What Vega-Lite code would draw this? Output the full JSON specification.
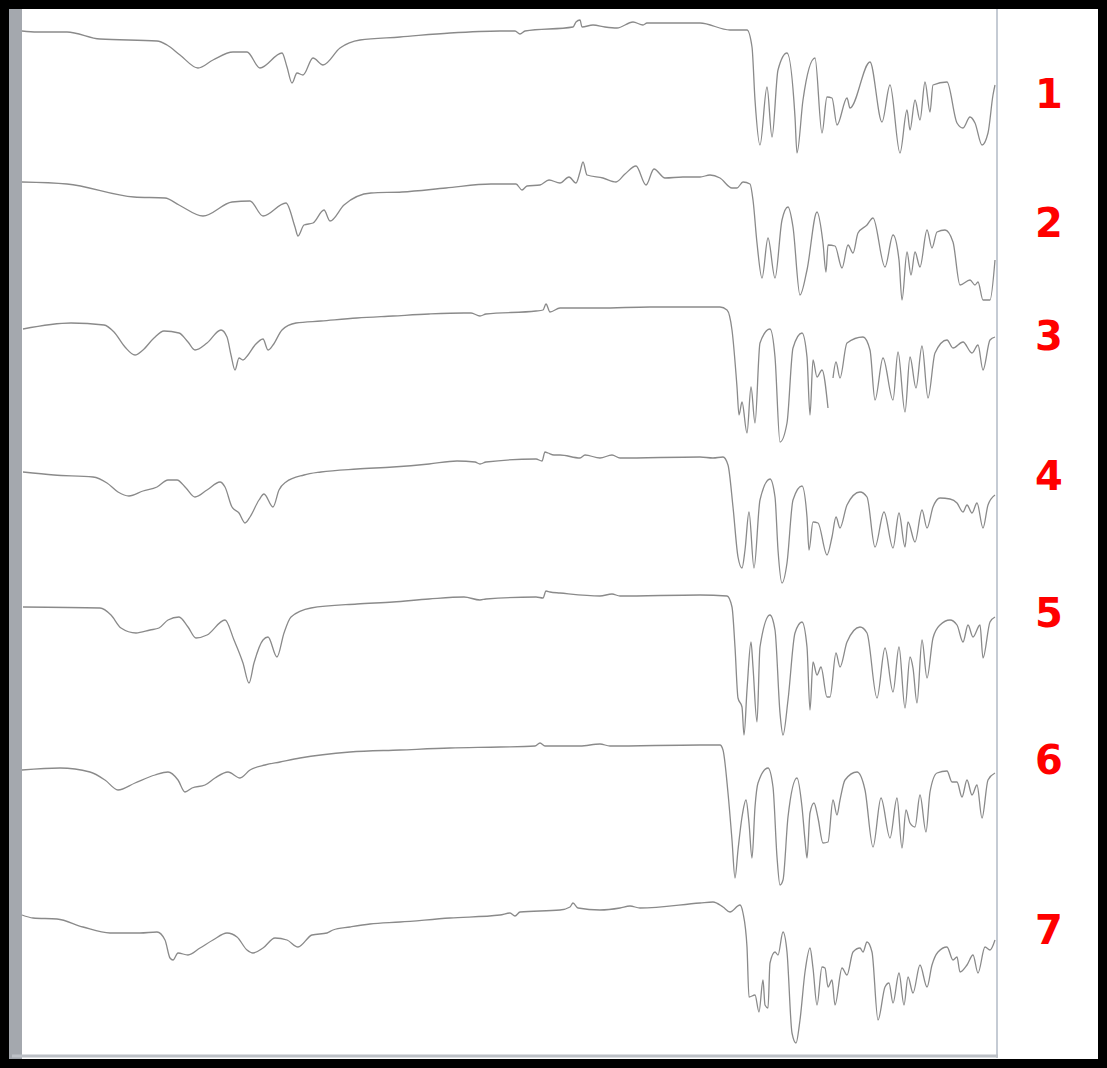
{
"$schema": "https://vega.github.io/schema/vega-lite/v6.json",
"width": 1107, "height": 1068, "padding": 0,
"autosize": {"type": "fit", "contains": "padding"},
"background": "white",
"config": {"view": {"stroke": "black", "strokeWidth": 18}},
"datasets": {
"labels": [{"n":"1","y":96},{"n":"2","y":225},{"n":"3","y":338},{"n":"4","y":478},{"n":"5","y":615},{"n":"6","y":762},{"n":"7","y":932}],
"spectra": [
{"id":"1","x":22,"y":31},{"id":"1","x":37,"y":32},{"id":"1","x":67,"y":32},{"id":"1","x":100,"y":39},{"id":"1","x":157,"y":41},{"id":"1","x":167,"y":45},{"id":"1","x":180,"y":55},{"id":"1","x":198,"y":68},{"id":"1","x":213,"y":60},{"id":"1","x":233,"y":52},{"id":"1","x":247,"y":52},{"id":"1","x":260,"y":68},{"id":"1","x":282,"y":53},{"id":"1","x":287,"y":67},{"id":"1","x":292,"y":83},{"id":"1","x":297,"y":73},{"id":"1","x":303,"y":75},{"id":"1","x":313,"y":58},{"id":"1","x":323,"y":65},{"id":"1","x":340,"y":48},{"id":"1","x":360,"y":40},{"id":"1","x":400,"y":37},{"id":"1","x":450,"y":33},{"id":"1","x":500,"y":31},{"id":"1","x":515,"y":31},{"id":"1","x":520,"y":34},{"id":"1","x":525,"y":31},{"id":"1","x":573,"y":27},{"id":"1","x":576,"y":22},{"id":"1","x":580,"y":20},{"id":"1","x":582,"y":27},{"id":"1","x":593,"y":25},{"id":"1","x":605,"y":27},{"id":"1","x":617,"y":28},{"id":"1","x":633,"y":22},{"id":"1","x":643,"y":25},{"id":"1","x":647,"y":23},{"id":"1","x":700,"y":23},{"id":"1","x":730,"y":30},{"id":"1","x":747,"y":30},{"id":"1","x":752,"y":47},{"id":"1","x":755,"y":100},{"id":"1","x":760,"y":145},{"id":"1","x":767,"y":87},{"id":"1","x":772,"y":137},{"id":"1","x":778,"y":70},{"id":"1","x":787,"y":53},{"id":"1","x":795,"y":117},{"id":"1","x":797,"y":153},{"id":"1","x":803,"y":100},{"id":"1","x":815,"y":58},{"id":"1","x":822,"y":133},{"id":"1","x":827,"y":97},{"id":"1","x":832,"y":98},{"id":"1","x":837,"y":125},{"id":"1","x":847,"y":98},{"id":"1","x":850,"y":108},{"id":"1","x":870,"y":62},{"id":"1","x":882,"y":122},{"id":"1","x":890,"y":85},{"id":"1","x":900,"y":153},{"id":"1","x":907,"y":110},{"id":"1","x":910,"y":130},{"id":"1","x":915,"y":100},{"id":"1","x":920,"y":120},{"id":"1","x":925,"y":82},{"id":"1","x":930,"y":112},{"id":"1","x":933,"y":85},{"id":"1","x":947,"y":82},{"id":"1","x":957,"y":123},{"id":"1","x":963,"y":128},{"id":"1","x":970,"y":117},{"id":"1","x":975,"y":123},{"id":"1","x":982,"y":145},{"id":"1","x":988,"y":133},{"id":"1","x":993,"y":95},{"id":"1","x":995,"y":85},
{"id":"2","x":22,"y":182},{"id":"2","x":67,"y":184},{"id":"2","x":134,"y":197},{"id":"2","x":165,"y":198},{"id":"2","x":179,"y":205},{"id":"2","x":203,"y":216},{"id":"2","x":232,"y":202},{"id":"2","x":250,"y":201},{"id":"2","x":263,"y":216},{"id":"2","x":286,"y":203},{"id":"2","x":295,"y":227},{"id":"2","x":298,"y":236},{"id":"2","x":304,"y":225},{"id":"2","x":313,"y":223},{"id":"2","x":324,"y":210},{"id":"2","x":330,"y":221},{"id":"2","x":344,"y":205},{"id":"2","x":371,"y":193},{"id":"2","x":402,"y":192},{"id":"2","x":446,"y":188},{"id":"2","x":491,"y":184},{"id":"2","x":516,"y":184},{"id":"2","x":522,"y":190},{"id":"2","x":527,"y":186},{"id":"2","x":540,"y":185},{"id":"2","x":549,"y":180},{"id":"2","x":560,"y":183},{"id":"2","x":569,"y":177},{"id":"2","x":576,"y":183},{"id":"2","x":580,"y":172},{"id":"2","x":583,"y":162},{"id":"2","x":587,"y":175},{"id":"2","x":603,"y":178},{"id":"2","x":616,"y":182},{"id":"2","x":625,"y":174},{"id":"2","x":636,"y":166},{"id":"2","x":646,"y":185},{"id":"2","x":654,"y":169},{"id":"2","x":665,"y":178},{"id":"2","x":683,"y":177},{"id":"2","x":700,"y":177},{"id":"2","x":710,"y":175},{"id":"2","x":720,"y":178},{"id":"2","x":732,"y":188},{"id":"2","x":737,"y":188},{"id":"2","x":743,"y":182},{"id":"2","x":750,"y":184},{"id":"2","x":753,"y":200},{"id":"2","x":757,"y":243},{"id":"2","x":762,"y":278},{"id":"2","x":768,"y":238},{"id":"2","x":775,"y":278},{"id":"2","x":782,"y":220},{"id":"2","x":788,"y":207},{"id":"2","x":793,"y":227},{"id":"2","x":800,"y":295},{"id":"2","x":807,"y":270},{"id":"2","x":817,"y":212},{"id":"2","x":823,"y":243},{"id":"2","x":826,"y":272},{"id":"2","x":828,"y":245},{"id":"2","x":835,"y":246},{"id":"2","x":842,"y":268},{"id":"2","x":848,"y":245},{"id":"2","x":853,"y":253},{"id":"2","x":858,"y":233},{"id":"2","x":867,"y":225},{"id":"2","x":873,"y":218},{"id":"2","x":885,"y":267},{"id":"2","x":893,"y":235},{"id":"2","x":899,"y":260},{"id":"2","x":902,"y":300},{"id":"2","x":907,"y":252},{"id":"2","x":911,"y":275},{"id":"2","x":915,"y":252},{"id":"2","x":920,"y":267},{"id":"2","x":927,"y":230},{"id":"2","x":932,"y":248},{"id":"2","x":937,"y":232},{"id":"2","x":945,"y":230},{"id":"2","x":953,"y":242},{"id":"2","x":960,"y":285},{"id":"2","x":970,"y":280},{"id":"2","x":975,"y":285},{"id":"2","x":978,"y":282},{"id":"2","x":983,"y":300},{"id":"2","x":990,"y":300},{"id":"2","x":995,"y":260},
{"id":"3","x":23,"y":329},{"id":"3","x":71,"y":323},{"id":"3","x":104,"y":325},{"id":"3","x":114,"y":332},{"id":"3","x":125,"y":347},{"id":"3","x":135,"y":355},{"id":"3","x":143,"y":350},{"id":"3","x":154,"y":338},{"id":"3","x":164,"y":331},{"id":"3","x":179,"y":333},{"id":"3","x":188,"y":342},{"id":"3","x":195,"y":350},{"id":"3","x":207,"y":343},{"id":"3","x":221,"y":330},{"id":"3","x":227,"y":337},{"id":"3","x":231,"y":355},{"id":"3","x":235,"y":370},{"id":"3","x":239,"y":358},{"id":"3","x":243,"y":360},{"id":"3","x":248,"y":355},{"id":"3","x":255,"y":345},{"id":"3","x":263,"y":339},{"id":"3","x":268,"y":350},{"id":"3","x":273,"y":345},{"id":"3","x":282,"y":330},{"id":"3","x":296,"y":323},{"id":"3","x":321,"y":321},{"id":"3","x":357,"y":318},{"id":"3","x":393,"y":316},{"id":"3","x":429,"y":314},{"id":"3","x":464,"y":313},{"id":"3","x":471,"y":313},{"id":"3","x":480,"y":316},{"id":"3","x":486,"y":314},{"id":"3","x":536,"y":311},{"id":"3","x":543,"y":310},{"id":"3","x":546,"y":304},{"id":"3","x":550,"y":312},{"id":"3","x":560,"y":308},{"id":"3","x":600,"y":308},{"id":"3","x":650,"y":307},{"id":"3","x":700,"y":307},{"id":"3","x":720,"y":307},{"id":"3","x":727,"y":310},{"id":"3","x":732,"y":330},{"id":"3","x":737,"y":387},{"id":"3","x":739,"y":415},{"id":"3","x":742,"y":402},{"id":"3","x":747,"y":433},{"id":"3","x":751,"y":387},{"id":"3","x":755,"y":423},{"id":"3","x":760,"y":343},{"id":"3","x":770,"y":329},{"id":"3","x":775,"y":357},{"id":"3","x":780,"y":442},{"id":"3","x":787,"y":423},{"id":"3","x":793,"y":348},{"id":"3","x":802,"y":333},{"id":"3","x":807,"y":357},{"id":"3","x":810,"y":415},{"id":"3","x":813,"y":360},{"id":"3","x":817,"y":377},{"id":"3","x":822,"y":370},{"id":"3","x":828,"y":408},
{"id":"3b","x":833,"y":378},{"id":"3b","x":836,"y":362},{"id":"3b","x":840,"y":378},{"id":"3b","x":847,"y":343},{"id":"3b","x":863,"y":337},{"id":"3b","x":870,"y":350},{"id":"3b","x":875,"y":400},{"id":"3b","x":883,"y":358},{"id":"3b","x":893,"y":400},{"id":"3b","x":898,"y":352},{"id":"3b","x":905,"y":412},{"id":"3b","x":910,"y":357},{"id":"3b","x":916,"y":388},{"id":"3b","x":922,"y":346},{"id":"3b","x":928,"y":398},{"id":"3b","x":935,"y":353},{"id":"3b","x":947,"y":340},{"id":"3b","x":953,"y":348},{"id":"3b","x":963,"y":342},{"id":"3b","x":972,"y":353},{"id":"3b","x":978,"y":345},{"id":"3b","x":983,"y":370},{"id":"3b","x":990,"y":340},{"id":"3b","x":995,"y":337},
{"id":"4","x":23,"y":472},{"id":"4","x":54,"y":475},{"id":"4","x":93,"y":477},{"id":"4","x":107,"y":483},{"id":"4","x":118,"y":492},{"id":"4","x":129,"y":496},{"id":"4","x":143,"y":491},{"id":"4","x":157,"y":487},{"id":"4","x":168,"y":480},{"id":"4","x":177,"y":480},{"id":"4","x":186,"y":488},{"id":"4","x":195,"y":497},{"id":"4","x":207,"y":490},{"id":"4","x":220,"y":482},{"id":"4","x":225,"y":487},{"id":"4","x":232,"y":507},{"id":"4","x":239,"y":513},{"id":"4","x":245,"y":523},{"id":"4","x":250,"y":517},{"id":"4","x":259,"y":500},{"id":"4","x":264,"y":494},{"id":"4","x":273,"y":507},{"id":"4","x":279,"y":490},{"id":"4","x":286,"y":482},{"id":"4","x":304,"y":475},{"id":"4","x":321,"y":472},{"id":"4","x":357,"y":469},{"id":"4","x":393,"y":467},{"id":"4","x":429,"y":464},{"id":"4","x":457,"y":461},{"id":"4","x":475,"y":462},{"id":"4","x":480,"y":464},{"id":"4","x":486,"y":462},{"id":"4","x":536,"y":459},{"id":"4","x":542,"y":461},{"id":"4","x":545,"y":452},{"id":"4","x":548,"y":453},{"id":"4","x":554,"y":455},{"id":"4","x":560,"y":455},{"id":"4","x":580,"y":458},{"id":"4","x":585,"y":455},{"id":"4","x":600,"y":458},{"id":"4","x":612,"y":455},{"id":"4","x":620,"y":458},{"id":"4","x":700,"y":457},{"id":"4","x":713,"y":458},{"id":"4","x":723,"y":457},{"id":"4","x":728,"y":465},{"id":"4","x":733,"y":507},{"id":"4","x":738,"y":557},{"id":"4","x":742,"y":568},{"id":"4","x":745,"y":550},{"id":"4","x":749,"y":512},{"id":"4","x":754,"y":568},{"id":"4","x":760,"y":500},{"id":"4","x":770,"y":479},{"id":"4","x":775,"y":497},{"id":"4","x":778,"y":550},{"id":"4","x":782,"y":583},{"id":"4","x":787,"y":563},{"id":"4","x":793,"y":500},{"id":"4","x":802,"y":486},{"id":"4","x":807,"y":517},{"id":"4","x":809,"y":550},{"id":"4","x":813,"y":522},{"id":"4","x":818,"y":523},{"id":"4","x":827,"y":555},{"id":"4","x":832,"y":537},{"id":"4","x":836,"y":517},{"id":"4","x":840,"y":528},{"id":"4","x":847,"y":505},{"id":"4","x":860,"y":492},{"id":"4","x":867,"y":497},{"id":"4","x":875,"y":547},{"id":"4","x":884,"y":512},{"id":"4","x":893,"y":548},{"id":"4","x":899,"y":513},{"id":"4","x":905,"y":547},{"id":"4","x":908,"y":522},{"id":"4","x":915,"y":542},{"id":"4","x":922,"y":510},{"id":"4","x":927,"y":528},{"id":"4","x":933,"y":507},{"id":"4","x":940,"y":498},{"id":"4","x":950,"y":499},{"id":"4","x":957,"y":503},{"id":"4","x":963,"y":512},{"id":"4","x":967,"y":505},{"id":"4","x":972,"y":513},{"id":"4","x":977,"y":503},{"id":"4","x":983,"y":528},{"id":"4","x":988,"y":505},{"id":"4","x":995,"y":495},
{"id":"5","x":23,"y":607},{"id":"5","x":100,"y":608},{"id":"5","x":111,"y":615},{"id":"5","x":121,"y":628},{"id":"5","x":136,"y":633},{"id":"5","x":150,"y":630},{"id":"5","x":159,"y":628},{"id":"5","x":168,"y":620},{"id":"5","x":179,"y":617},{"id":"5","x":188,"y":627},{"id":"5","x":196,"y":638},{"id":"5","x":207,"y":635},{"id":"5","x":225,"y":620},{"id":"5","x":234,"y":640},{"id":"5","x":243,"y":663},{"id":"5","x":249,"y":683},{"id":"5","x":254,"y":663},{"id":"5","x":263,"y":640},{"id":"5","x":268,"y":637},{"id":"5","x":277,"y":657},{"id":"5","x":284,"y":633},{"id":"5","x":291,"y":617},{"id":"5","x":311,"y":608},{"id":"5","x":357,"y":604},{"id":"5","x":393,"y":602},{"id":"5","x":429,"y":599},{"id":"5","x":464,"y":597},{"id":"5","x":480,"y":600},{"id":"5","x":486,"y":599},{"id":"5","x":536,"y":597},{"id":"5","x":543,"y":598},{"id":"5","x":546,"y":591},{"id":"5","x":550,"y":592},{"id":"5","x":560,"y":593},{"id":"5","x":600,"y":596},{"id":"5","x":612,"y":594},{"id":"5","x":620,"y":596},{"id":"5","x":700,"y":595},{"id":"5","x":727,"y":596},{"id":"5","x":732,"y":607},{"id":"5","x":735,"y":647},{"id":"5","x":738,"y":698},{"id":"5","x":742,"y":707},{"id":"5","x":744,"y":735},{"id":"5","x":747,"y":690},{"id":"5","x":751,"y":642},{"id":"5","x":753,"y":667},{"id":"5","x":757,"y":722},{"id":"5","x":760,"y":647},{"id":"5","x":770,"y":615},{"id":"5","x":775,"y":630},{"id":"5","x":780,"y":713},{"id":"5","x":783,"y":735},{"id":"5","x":788,"y":700},{"id":"5","x":795,"y":633},{"id":"5","x":802,"y":622},{"id":"5","x":807,"y":647},{"id":"5","x":810,"y":710},{"id":"5","x":813,"y":662},{"id":"5","x":817,"y":675},{"id":"5","x":821,"y":667},{"id":"5","x":827,"y":697},{"id":"5","x":830,"y":697},{"id":"5","x":836,"y":653},{"id":"5","x":840,"y":667},{"id":"5","x":847,"y":642},{"id":"5","x":860,"y":627},{"id":"5","x":867,"y":633},{"id":"5","x":877,"y":698},{"id":"5","x":885,"y":648},{"id":"5","x":893,"y":692},{"id":"5","x":899,"y":647},{"id":"5","x":905,"y":708},{"id":"5","x":910,"y":657},{"id":"5","x":913,"y":668},{"id":"5","x":917,"y":703},{"id":"5","x":922,"y":640},{"id":"5","x":927,"y":678},{"id":"5","x":933,"y":638},{"id":"5","x":940,"y":625},{"id":"5","x":950,"y":620},{"id":"5","x":957,"y":625},{"id":"5","x":963,"y":642},{"id":"5","x":968,"y":625},{"id":"5","x":973,"y":637},{"id":"5","x":980,"y":625},{"id":"5","x":983,"y":658},{"id":"5","x":990,"y":622},{"id":"5","x":995,"y":617},
{"id":"6","x":22,"y":770},{"id":"6","x":60,"y":768},{"id":"6","x":90,"y":772},{"id":"6","x":105,"y":780},{"id":"6","x":118,"y":790},{"id":"6","x":135,"y":783},{"id":"6","x":155,"y":775},{"id":"6","x":168,"y":772},{"id":"6","x":178,"y":780},{"id":"6","x":185,"y":792},{"id":"6","x":192,"y":788},{"id":"6","x":205,"y":785},{"id":"6","x":215,"y":778},{"id":"6","x":228,"y":772},{"id":"6","x":240,"y":778},{"id":"6","x":250,"y":770},{"id":"6","x":265,"y":765},{"id":"6","x":280,"y":762},{"id":"6","x":300,"y":758},{"id":"6","x":350,"y":752},{"id":"6","x":400,"y":750},{"id":"6","x":450,"y":748},{"id":"6","x":500,"y":747},{"id":"6","x":535,"y":746},{"id":"6","x":540,"y":743},{"id":"6","x":545,"y":746},{"id":"6","x":580,"y":746},{"id":"6","x":600,"y":744},{"id":"6","x":610,"y":746},{"id":"6","x":700,"y":745},{"id":"6","x":720,"y":745},{"id":"6","x":723,"y":750},{"id":"6","x":728,"y":793},{"id":"6","x":732,"y":840},{"id":"6","x":735,"y":878},{"id":"6","x":738,"y":850},{"id":"6","x":742,"y":817},{"id":"6","x":746,"y":800},{"id":"6","x":749,"y":823},{"id":"6","x":752,"y":858},{"id":"6","x":755,"y":807},{"id":"6","x":758,"y":783},{"id":"6","x":768,"y":768},{"id":"6","x":773,"y":787},{"id":"6","x":777,"y":857},{"id":"6","x":780,"y":885},{"id":"6","x":783,"y":880},{"id":"6","x":788,"y":817},{"id":"6","x":797,"y":778},{"id":"6","x":802,"y":807},{"id":"6","x":805,"y":840},{"id":"6","x":807,"y":858},{"id":"6","x":810,"y":813},{"id":"6","x":814,"y":803},{"id":"6","x":818,"y":818},{"id":"6","x":823,"y":843},{"id":"6","x":828,"y":842},{"id":"6","x":833,"y":800},{"id":"6","x":837,"y":815},{"id":"6","x":840,"y":800},{"id":"6","x":845,"y":780},{"id":"6","x":857,"y":772},{"id":"6","x":865,"y":790},{"id":"6","x":873,"y":847},{"id":"6","x":881,"y":798},{"id":"6","x":890,"y":838},{"id":"6","x":897,"y":798},{"id":"6","x":902,"y":848},{"id":"6","x":906,"y":810},{"id":"6","x":910,"y":823},{"id":"6","x":915,"y":827},{"id":"6","x":920,"y":795},{"id":"6","x":926,"y":832},{"id":"6","x":930,"y":792},{"id":"6","x":937,"y":773},{"id":"6","x":947,"y":771},{"id":"6","x":952,"y":782},{"id":"6","x":957,"y":782},{"id":"6","x":962,"y":797},{"id":"6","x":967,"y":780},{"id":"6","x":972,"y":795},{"id":"6","x":977,"y":785},{"id":"6","x":982,"y":818},{"id":"6","x":988,"y":780},{"id":"6","x":995,"y":773},
{"id":"7","x":22,"y":915},{"id":"7","x":33,"y":918},{"id":"7","x":57,"y":919},{"id":"7","x":83,"y":927},{"id":"7","x":110,"y":933},{"id":"7","x":140,"y":933},{"id":"7","x":157,"y":932},{"id":"7","x":165,"y":940},{"id":"7","x":170,"y":958},{"id":"7","x":173,"y":960},{"id":"7","x":178,"y":953},{"id":"7","x":188,"y":955},{"id":"7","x":200,"y":948},{"id":"7","x":213,"y":940},{"id":"7","x":227,"y":933},{"id":"7","x":237,"y":937},{"id":"7","x":247,"y":950},{"id":"7","x":253,"y":953},{"id":"7","x":263,"y":948},{"id":"7","x":275,"y":938},{"id":"7","x":287,"y":940},{"id":"7","x":298,"y":947},{"id":"7","x":312,"y":935},{"id":"7","x":327,"y":933},{"id":"7","x":333,"y":930},{"id":"7","x":350,"y":927},{"id":"7","x":370,"y":924},{"id":"7","x":400,"y":922},{"id":"7","x":450,"y":918},{"id":"7","x":500,"y":915},{"id":"7","x":510,"y":913},{"id":"7","x":515,"y":916},{"id":"7","x":520,"y":912},{"id":"7","x":560,"y":910},{"id":"7","x":570,"y":907},{"id":"7","x":573,"y":903},{"id":"7","x":578,"y":908},{"id":"7","x":600,"y":910},{"id":"7","x":620,"y":908},{"id":"7","x":630,"y":906},{"id":"7","x":640,"y":908},{"id":"7","x":700,"y":903},{"id":"7","x":713,"y":902},{"id":"7","x":723,"y":907},{"id":"7","x":730,"y":912},{"id":"7","x":740,"y":905},{"id":"7","x":743,"y":913},{"id":"7","x":747,"y":947},{"id":"7","x":749,"y":997},{"id":"7","x":755,"y":995},{"id":"7","x":759,"y":1012},{"id":"7","x":763,"y":980},{"id":"7","x":765,"y":1005},{"id":"7","x":768,"y":1008},{"id":"7","x":770,"y":963},{"id":"7","x":775,"y":952},{"id":"7","x":778,"y":955},{"id":"7","x":783,"y":932},{"id":"7","x":787,"y":952},{"id":"7","x":792,"y":1033},{"id":"7","x":796,"y":1043},{"id":"7","x":800,"y":1020},{"id":"7","x":805,"y":972},{"id":"7","x":810,"y":948},{"id":"7","x":813,"y":968},{"id":"7","x":817,"y":1005},{"id":"7","x":822,"y":967},{"id":"7","x":825,"y":968},{"id":"7","x":828,"y":987},{"id":"7","x":832,"y":980},{"id":"7","x":835,"y":1005},{"id":"7","x":842,"y":968},{"id":"7","x":847,"y":975},{"id":"7","x":853,"y":952},{"id":"7","x":860,"y":948},{"id":"7","x":863,"y":952},{"id":"7","x":867,"y":942},{"id":"7","x":872,"y":952},{"id":"7","x":878,"y":1020},{"id":"7","x":885,"y":987},{"id":"7","x":889,"y":983},{"id":"7","x":893,"y":1003},{"id":"7","x":899,"y":973},{"id":"7","x":904,"y":1005},{"id":"7","x":908,"y":977},{"id":"7","x":913,"y":993},{"id":"7","x":920,"y":965},{"id":"7","x":927,"y":987},{"id":"7","x":932,"y":965},{"id":"7","x":938,"y":952},{"id":"7","x":947,"y":947},{"id":"7","x":953,"y":960},{"id":"7","x":957,"y":957},{"id":"7","x":960,"y":972},{"id":"7","x":967,"y":965},{"id":"7","x":973,"y":955},{"id":"7","x":978,"y":973},{"id":"7","x":985,"y":947},{"id":"7","x":990,"y":950},{"id":"7","x":995,"y":940}
]},
"layer": [
{"data": {"values": [{}]}, "mark": {"type": "rect", "fill": "#a4a8ae"},
 "encoding": {"x": {"datum": 9, "type": "quantitative", "scale": {"domain": [0, 1107], "nice": false, "zero": false}, "axis": null},
  "x2": {"datum": 22}, "y": {"datum": 9, "type": "quantitative", "scale": {"domain": [0, 1068], "nice": false, "zero": false, "reverse": true}, "axis": null}, "y2": {"datum": 1059}}},
{"data": {"values": [{}]}, "mark": {"type": "rule", "stroke": "#b2bac6", "strokeWidth": 1.5},
 "encoding": {"x": {"datum": 997, "type": "quantitative"}, "y": {"datum": 9, "type": "quantitative"}, "y2": {"datum": 1058}}},
{"data": {"values": [{}]}, "mark": {"type": "rule", "stroke": "#bcc0c6", "strokeWidth": 3},
 "encoding": {"y": {"datum": 1056, "type": "quantitative"}, "x": {"datum": 12, "type": "quantitative"}, "x2": {"datum": 998}}},
{"data": {"name": "spectra"}, "mark": {"type": "line", "stroke": "#8a8a8a", "strokeWidth": 1.3, "strokeJoin": "round", "interpolate": "monotone"},
 "encoding": {"x": {"field": "x", "type": "quantitative"}, "y": {"field": "y", "type": "quantitative"}, "detail": {"field": "id", "type": "nominal"}}},
{"data": {"name": "labels"}, "mark": {"type": "text", "color": "#ff0000", "font": "DejaVu Sans", "fontWeight": "bold", "fontSize": 40, "align": "center", "baseline": "middle"},
 "encoding": {"x": {"datum": 1049, "type": "quantitative"}, "y": {"field": "y", "type": "quantitative"}, "text": {"field": "n", "type": "nominal"}}}
]
}
